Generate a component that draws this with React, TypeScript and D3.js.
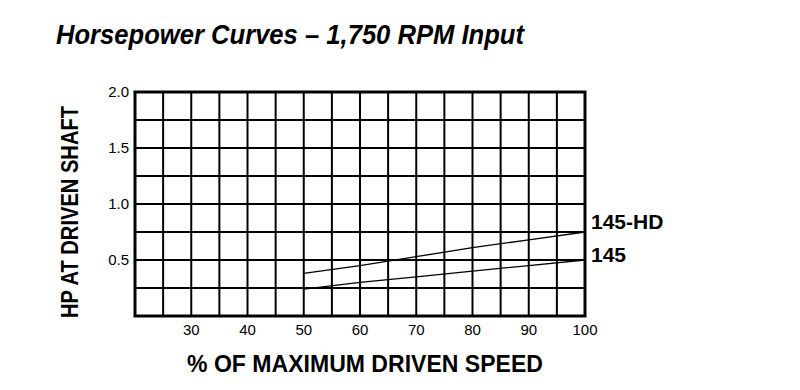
import * as d3 from 'd3';

const speeds = [50, 60, 70, 80, 90, 100];
const hpHD = [0.38, 0.45, 0.53, 0.61, 0.68, 0.75];
const hp145 = [0.24, 0.3, 0.35, 0.4, 0.45, 0.5];
const seriesNames = ['145-HD', '145'];
const xTicks = [30, 40, 50, 60, 70, 80, 90, 100];
const yTicks = [0.5, 1.0, 1.5, 2.0];

const WIDTH = 800;
const HEIGHT = 390;
const MARGIN = { top: 92, right: 215, bottom: 74, left: 135 };
const FONT = "'Liberation Sans Narrow', 'Liberation Sans', Arial, sans-serif";

const App = () => {
  const boundsWidth = WIDTH - MARGIN.left - MARGIN.right;
  const boundsHeight = HEIGHT - MARGIN.top - MARGIN.bottom;

  const xScale = d3.scaleLinear().domain([20, 100]).range([0, boundsWidth]);
  const yScale = d3.scaleLinear().domain([0, 2]).range([boundsHeight, 0]);

  const xGrid = d3.range(25, 100, 5);
  const yGrid = d3.range(0.25, 2, 0.25);

  const line = d3
    .line<number>()
    .x((_, i) => xScale(speeds[i]))
    .y((d) => yScale(d));

  const series = [hpHD, hp145];
  // label baselines relative to the curve end
  const labelOffsets = [-3, 2];

  return (
    <svg width={WIDTH} height={HEIGHT} style={{ display: 'block', margin: -8, background: '#fff' }}>
      <text
        x={56}
        y={44}
        fontFamily={FONT}
        fontWeight="bold"
        fontStyle="italic"
        fontSize={28}
        textLength={468}
        lengthAdjust="spacingAndGlyphs"
        fill="#000"
      >
        Horsepower Curves – 1,750 RPM Input
      </text>

      <g transform={`translate(${MARGIN.left},${MARGIN.top})`}>
        {xGrid.map((v) => (
          <line key={`xg-${v}`} x1={xScale(v)} x2={xScale(v)} y1={0} y2={boundsHeight} stroke="#000" strokeWidth={2} />
        ))}
        {yGrid.map((v) => (
          <line key={`yg-${v}`} x1={0} x2={boundsWidth} y1={yScale(v)} y2={yScale(v)} stroke="#000" strokeWidth={2} />
        ))}
        <rect x={0} y={0} width={boundsWidth} height={boundsHeight} fill="none" stroke="#000" strokeWidth={3} />

        {series.map((s, i) => (
          <path key={`s-${i}`} d={line(s) || ''} fill="none" stroke="#000" strokeWidth={1.3} />
        ))}

        {series.map((s, i) => (
          <text
            key={`lab-${i}`}
            x={boundsWidth + 6}
            y={yScale(s[s.length - 1]) + labelOffsets[i]}
            fontFamily={FONT}
            fontWeight="bold"
            fontSize={21}
            fill="#000"
          >
            {seriesNames[i]}
          </text>
        ))}

        {yTicks.map((v) => (
          <text
            key={`yt-${v}`}
            x={-6}
            y={yScale(v)}
            dy="0.35em"
            textAnchor="end"
            fontFamily={FONT}
            fontSize={15}
            fill="#000"
          >
            {v.toFixed(1)}
          </text>
        ))}

        {xTicks.map((v) => (
          <text
            key={`xt-${v}`}
            x={xScale(v)}
            y={boundsHeight + 19}
            textAnchor="middle"
            fontFamily={FONT}
            fontSize={15}
            fill="#000"
          >
            {v}
          </text>
        ))}

        <text
          x={xScale(60) + 5}
          y={boundsHeight + 56}
          textAnchor="middle"
          fontFamily={FONT}
          fontWeight="bold"
          fontSize={24}
          textLength={356}
          lengthAdjust="spacingAndGlyphs"
          fill="#000"
        >
          % OF MAXIMUM DRIVEN SPEED
        </text>

        <text
          transform={`translate(${-57},${boundsHeight / 2 + 8}) rotate(-90)`}
          textAnchor="middle"
          fontFamily={FONT}
          fontWeight="bold"
          fontSize={24}
          textLength={212}
          lengthAdjust="spacingAndGlyphs"
          fill="#000"
        >
          HP AT DRIVEN SHAFT
        </text>
      </g>
    </svg>
  );
};

export default App;
